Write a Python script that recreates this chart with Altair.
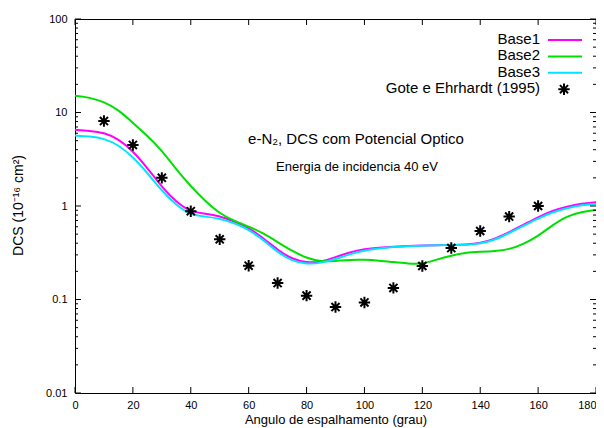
import altair as alt
import pandas as pd

# ---------------- data ----------------
angles = list(range(0, 181, 5))
series_names = ["Base1", "Base2", "Base3"]
series_colors = ["#ff00ff", "#00e000", "#00e5ff"]

base1 = [6.53, 6.37, 6.10, 5.22, 3.89, 2.55, 1.60, 1.10, 0.863, 0.831, 0.782, 0.682,
         0.588, 0.455, 0.338, 0.270, 0.248, 0.251, 0.284, 0.321, 0.346, 0.359, 0.368,
         0.374, 0.379, 0.382, 0.382, 0.387, 0.401, 0.443, 0.526, 0.63, 0.76, 0.895,
         0.988, 1.064, 1.096]
base2 = [15.1, 14.5, 13.0, 10.7, 7.76, 5.63, 3.93, 2.45, 1.62, 1.13, 0.83, 0.691,
         0.603, 0.514, 0.411, 0.330, 0.277, 0.253, 0.257, 0.267, 0.267, 0.261, 0.251,
         0.242, 0.239, 0.268, 0.295, 0.318, 0.324, 0.330, 0.342, 0.392, 0.477, 0.626,
         0.782, 0.862, 0.906]
base3 = [5.67, 5.56, 5.29, 4.51, 3.35, 2.26, 1.45, 1.02, 0.801, 0.771, 0.735, 0.657,
         0.560, 0.435, 0.321, 0.257, 0.239, 0.245, 0.270, 0.306, 0.334, 0.351, 0.364,
         0.373, 0.377, 0.380, 0.382, 0.384, 0.396, 0.432, 0.514, 0.615, 0.735, 0.862,
         0.952, 1.025, 1.05]

exp_name = "Gote e Ehrhardt (1995)"
exp_angles = [10, 20, 30, 40, 50, 60, 70, 80, 90, 100, 110, 120, 130, 140, 150, 160]
exp_dcs = [8.1, 4.5, 2.0, 0.88, 0.44, 0.23, 0.15, 0.11, 0.083, 0.093, 0.133, 0.228,
           0.355, 0.54, 0.77, 1.0]

x_ticks = [0, 20, 40, 60, 80, 100, 120, 140, 160, 180]
y_major = [0.01, 0.1, 1, 10, 100]
y_minor = [m * 10.0 ** e for e in range(-2, 2) for m in range(2, 10)]

title_line1 = "e-N\u2082, DCS com Potencial Optico"
title_line2 = "Energia de incidencia 40 eV"
x_title = "Angulo de espalhamento (grau)"
y_title = "DCS (10\u207b\u00b9\u2076 cm\u00b2)"

# ---------------- layout ----------------
W, H = 521, 374
FONT = "Liberation Sans"
STAR = "M-1,0L1,0M0,-1L0,1M-0.71,-0.71L0.71,0.71M-0.71,0.71L0.71,-0.71"

curves = pd.DataFrame({
    "angle": angles * 3,
    "dcs": base1 + base2 + base3,
    "serie": sum([[n] * len(angles) for n in series_names], []),
})
exp_df = pd.DataFrame({"angle": exp_angles, "dcs": exp_dcs})

xs = alt.Scale(domain=[0, 180], nice=False, zero=False)
ys = alt.Scale(type="log", domain=[0.01, 100], nice=False)

x_axis = alt.Axis(values=x_ticks, format="d", ticks=False, domain=False, grid=False,
                  labelFont=FONT, labelFontSize=11, labelColor="black", labelPadding=6,
                  labelFlush=False,
                  labelAlign={"condition": {"test": "datum.value === 180", "value": "right"},
                              "value": "center"},
                  title=x_title, titleFont=FONT, titleFontSize=13, titleFontWeight="normal",
                  titleColor="black", titleY=26, titleBaseline="middle")
y_axis = alt.Axis(values=y_major, format="~g", ticks=False, domain=False, grid=False,
                  labelFont=FONT, labelFontSize=11, labelColor="black", labelPadding=8,
                  labelFlush=False,
                  title=y_title, titleFont=FONT, titleFontSize=14, titleFontWeight="normal",
                  titleColor="black", titleAngle=270, titleX=-57, titleY=186,
                  titleAlign="center", titleBaseline="middle")


def X(field):
    return alt.X(field, scale=xs, axis=x_axis, title=x_title)


def Y(field):
    return alt.Y(field, scale=ys, axis=y_axis, title=y_title)


lines = alt.Chart(curves).mark_line(strokeWidth=2, interpolate="basis").encode(
    x=X("angle:Q"),
    y=Y("dcs:Q"),
    color=alt.Color("serie:N", scale=alt.Scale(domain=series_names, range=series_colors),
                    legend=None),
)

points = alt.Chart(exp_df).mark_point(shape=STAR, filled=False, stroke="black",
                                      strokeWidth=2, size=130, opacity=1).encode(
    x=X("angle:Q"),
    y=Y("dcs:Q"),
)

# inward ticks (gnuplot style) on all four sides
xt = pd.DataFrame({"angle": x_ticks})
ymaj = pd.DataFrame({"dcs": y_major})
ymin = pd.DataFrame({"dcs": y_minor})
tick_layers = []
for y0, y1 in [(H, H - 6), (0, 6)]:
    tick_layers.append(alt.Chart(xt).mark_rule(color="black", strokeWidth=1).encode(
        x=X("angle:Q"), y=alt.value(y0), y2=alt.value(y1)))
for df, ln in [(ymaj, 6), (ymin, 3)]:
    for x0, x1 in [(0, ln), (W, W - ln)]:
        tick_layers.append(alt.Chart(df).mark_rule(color="black", strokeWidth=1).encode(
            y=Y("dcs:Q"), x=alt.value(x0), x2=alt.value(x1)))

# annotations
ann1 = alt.Chart(pd.DataFrame({"t": [title_line1]})).mark_text(
    font=FONT, fontSize=15, align="center", baseline="middle", color="black").encode(
    text="t:N", x=alt.value(281), y=alt.value(120))
ann2 = alt.Chart(pd.DataFrame({"t": [title_line2]})).mark_text(
    font=FONT, fontSize=13, align="center", baseline="middle", color="black").encode(
    text="t:N", x=alt.value(282), y=alt.value(148))

# legend (text left of sample, gnuplot style)
leg_layers = []
legend_entries = series_names + [exp_name]
for i, name in enumerate(legend_entries):
    yy = 20 + 16.4 * i
    leg_layers.append(alt.Chart(pd.DataFrame({"t": [name]})).mark_text(
        font=FONT, fontSize=15, align="right", baseline="middle", color="black").encode(
        text="t:N", x=alt.value(465), y=alt.value(yy)))
    if i < len(series_names):
        leg_layers.append(alt.Chart(pd.DataFrame({"s": [name]})).mark_rule(
            color=series_colors[i], strokeWidth=2).encode(
            x=alt.value(473), x2=alt.value(507), y=alt.value(yy + 1)))
    else:
        leg_layers.append(alt.Chart(pd.DataFrame({"s": [name]})).mark_point(
            shape=STAR, filled=False, stroke="black", strokeWidth=2, size=130,
            opacity=1).encode(x=alt.value(489), y=alt.value(yy + 1)))

chart = alt.layer(lines, points, *tick_layers, ann1, ann2, *leg_layers).properties(
    width=W, height=H,
    autosize=alt.AutoSizeParams(type="none"),
    padding={"left": 67, "top": 11, "right": 0, "bottom": 35},
    background="white",
).configure_view(stroke="black", strokeWidth=1)

chart.save("out.html", embed_options={"renderer": "svg", "actions": False})
